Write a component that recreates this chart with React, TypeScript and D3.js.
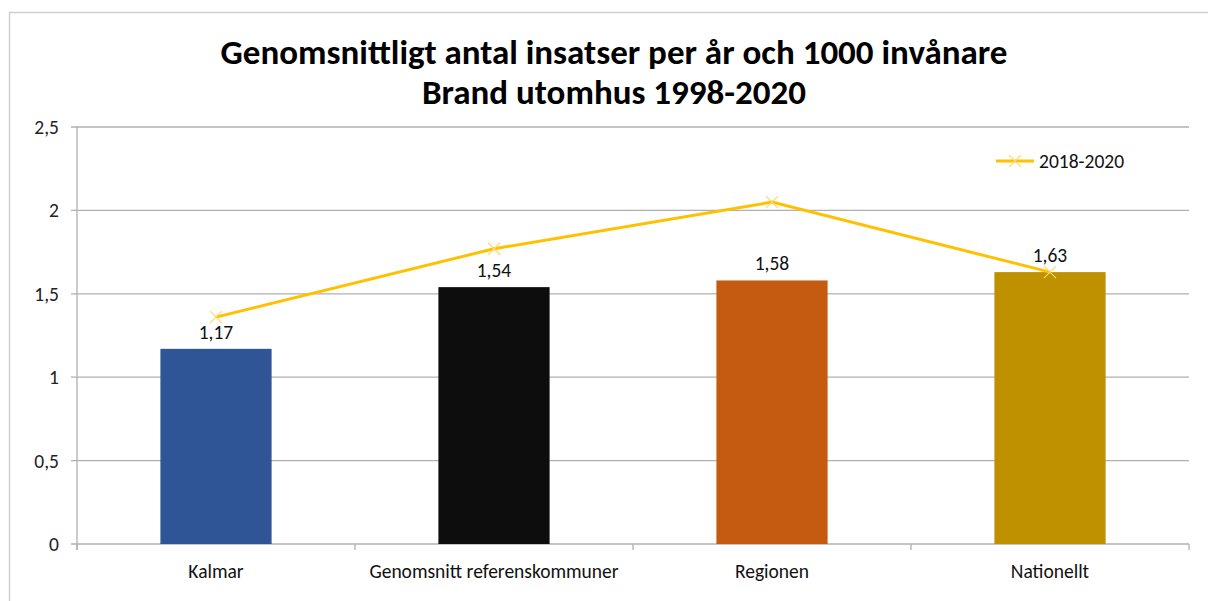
import React from "react";
import * as d3 from "d3";

const categories = ["Kalmar", "Genomsnitt referenskommuner", "Regionen", "Nationellt"];
const barValues = [1.17, 1.54, 1.58, 1.63];
const barColors = ["#2F5597", "#0D0D0D", "#C55A11", "#BF9000"];
const lineValues = [1.36, 1.77, 2.05, 1.63];
const lineName = "2018-2020";
const yTicks = [0, 0.5, 1, 1.5, 2, 2.5];
const titleLines = ["Genomsnittligt antal insatser per år och 1000 invånare", "Brand utomhus 1998-2020"];

const W = 1208, H = 601;
const left = 77, right = 1189, top = 127, bottom = 544;
const FONT = "Calibri, Carlito, Lato, 'Open Sans', sans-serif";

export default function App() {
  const x = d3.scaleBand<string>().domain(categories).range([left, right]).paddingInner(0.6).paddingOuter(0.3);
  const xb = d3.scaleBand<string>().domain(categories).range([left, right]);
  const y = d3.scaleLinear().domain([0, 2.5]).range([bottom, top]);
  const fmt = (v: number) => String(v).replace(".", ",");
  const line = d3.line<number>().x((_, i) => (xb(categories[i]) as number) + xb.bandwidth() / 2).y((d) => y(d));
  const boundaries = categories.map((c) => xb(c) as number).concat([right]);
  const marker = (cx: number, cy: number, k: string) => (
    <path key={k} d={`M${cx - 6},${cy - 6}L${cx + 6},${cy + 6}M${cx - 6},${cy + 6}L${cx + 6},${cy - 6}`} stroke="#FFD966" strokeWidth={1.2} />
  );
  return (
    <svg width={W} height={H} style={{ position: "absolute", left: 0, top: 0, background: "#fff" }} fontFamily={FONT}>
      <rect x={9.5} y={12.5} width={W} height={H} fill="none" stroke="#D0D0D0" strokeWidth={1.5} />
      {titleLines.map((t, i) => (
        <text key={t} x={614} y={64 + i * 40} textAnchor="middle" fontSize={35} fontWeight="bold" fill="#000">{t}</text>
      ))}
      {yTicks.map((t) => (
        <g key={t}>
          <line x1={left - 6} x2={right} y1={y(t)} y2={y(t)} stroke="#B0B0B0" strokeWidth={1.3} />
          <text x={59} y={y(t) + 7} textAnchor="end" fontSize={19.5} fill="#222">{fmt(t)}</text>
        </g>
      ))}
      <line x1={left} x2={left} y1={top} y2={bottom + 6} stroke="#B0B0B0" strokeWidth={1.3} />
      {boundaries.map((b, i) => (
        <line key={i} x1={b} x2={b} y1={bottom} y2={bottom + 6} stroke="#B0B0B0" strokeWidth={1.3} />
      ))}
      {categories.map((c, i) => (
        <g key={c}>
          <rect x={x(c)} y={y(barValues[i])} width={x.bandwidth()} height={bottom - y(barValues[i])} fill={barColors[i]} />
          <text x={(x(c) as number) + x.bandwidth() / 2} y={y(barValues[i]) - 10} textAnchor="middle" fontSize={19.5} fill="#111">{fmt(barValues[i])}</text>
          <text x={(xb(c) as number) + xb.bandwidth() / 2} y={578} textAnchor="middle" fontSize={19.5} fill="#111">{c}</text>
        </g>
      ))}
      <path d={line(lineValues) || ""} fill="none" stroke="#FFC000" strokeWidth={3} />
      {lineValues.map((v, i) => marker((xb(categories[i]) as number) + xb.bandwidth() / 2, y(v), "m" + i))}
      <line x1={996} x2={1034} y1={161} y2={161} stroke="#FFC000" strokeWidth={3} />
      {marker(1015, 161, "leg")}
      <text x={1039} y={168} fontSize={19.5} fill="#111">{lineName}</text>
    </svg>
  );
}
